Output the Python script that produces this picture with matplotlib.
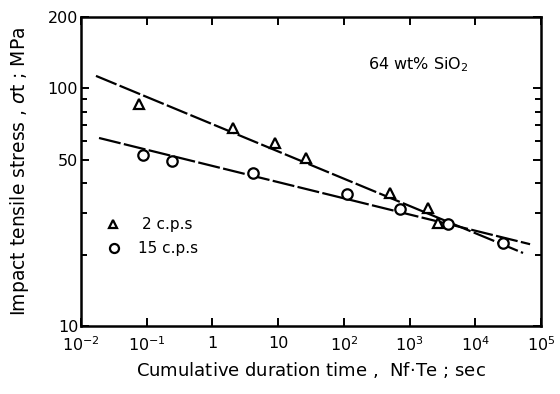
import numpy as np
import matplotlib
matplotlib.use("Agg")
import matplotlib.pyplot as plt
from matplotlib.ticker import FixedLocator, NullFormatter

# data
tri_x = [0.076, 2.06, 8.97, 26.6, 505, 1915, 2720]
tri_y = [86, 68.2, 59, 51, 36.3, 31.4, 27.2]
circ_x = [0.088, 0.243, 4.15, 112, 716, 3850, 26500]
circ_y = [52.5, 49.5, 44, 35.9, 31.1, 26.8, 22.3]

# fitted lines (end points)
tri_fit_x = [0.0169, 53300]
tri_fit_y = [113, 20.3]
circ_fit_x = [0.0188, 68200]
circ_fit_y = [61.9, 22.1]

xticks = [1e-2, 1e-1, 1, 10, 1e2, 1e3, 1e4, 1e5]
xticklabels = ["$10^{-2}$", "$10^{-1}$", "1", "10", "$10^{2}$", "$10^{3}$", "$10^{4}$", "$10^{5}$"]
yticks = [10, 50, 100, 200]
yminor = [20, 30, 40, 60, 70, 80, 90]

plt.rcParams['font.size'] = 11.5
fig = plt.figure(figsize=(5.6, 3.94), dpi=100)
ax = fig.add_axes([81/560, 1 - 326/394, 460/560, 309/394])

ax.plot(tri_fit_x, tri_fit_y, color='black', lw=1.6, ls=(0, (10, 1.5)))
ax.plot(circ_fit_x, circ_fit_y, color='black', lw=1.6, ls=(0, (10, 1.5)))
ax.plot(tri_x, tri_y, ls='none', marker='^', ms=7, mfc='white', mec='black', mew=1.6, zorder=3)
ax.plot(circ_x, circ_y, ls='none', marker='o', ms=7.5, mfc='white', mec='black', mew=1.6, zorder=3)

ax.set_xscale('log')
ax.set_yscale('log')
ax.set_xlim(1e-2, 1e5)
ax.set_ylim(10, 200)

ax.xaxis.set_major_locator(FixedLocator(xticks))
ax.set_xticklabels(xticklabels)
ax.xaxis.set_minor_locator(FixedLocator([]))
ax.yaxis.set_major_locator(FixedLocator(yticks))
ax.set_yticklabels([str(v) for v in yticks])
ax.yaxis.set_minor_locator(FixedLocator(yminor))
ax.yaxis.set_minor_formatter(NullFormatter())

ax.tick_params(which='both', direction='in', top=True, right=True, width=1.4)
ax.tick_params(which='major', length=6)
ax.tick_params(axis='x', pad=7)
ax.tick_params(axis='y', pad=2)
ax.tick_params(which='minor', length=4)
for s in ax.spines.values():
    s.set_linewidth(1.8)

ax.set_xlabel("Cumulative duration time ,  Nf$\\cdot$Te ; sec", fontsize=13, labelpad=4)
ax.set_ylabel("Impact tensile stress , $\\sigma$t ; MPa", fontsize=13.5, labelpad=12)

ax.text(0.625, 0.83, "64 wt% SiO$_2$", transform=ax.transAxes, fontsize=11.5)

# legend drawn by hand like the original
ax.plot([0.0307], [26.8], ls='none', marker='^', ms=6, mfc='white', mec='black', mew=1.6)
ax.plot([0.032], [21.3], ls='none', marker='o', ms=6.5, mfc='white', mec='black', mew=1.6)
ax.text(0.085, 26.8, "2 c.p.s", va='center', fontsize=11)
ax.text(0.074, 21.3, "15 c.p.s", va='center', fontsize=11)

fig.savefig("out.png", dpi=100)
